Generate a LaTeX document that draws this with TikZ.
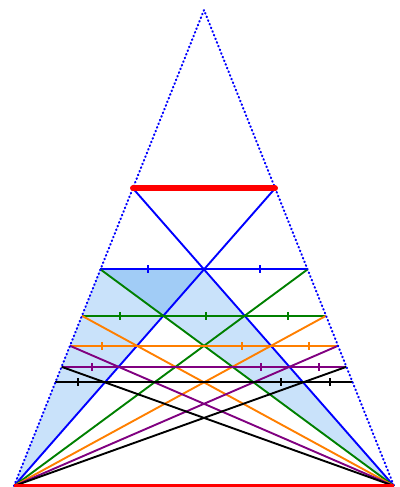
\documentclass[tikz,border=0pt]{standalone}
\usetikzlibrary{calc}
\definecolor{lgreen}{RGB}{0,128,0}
\definecolor{lorange}{RGB}{255,127,0}
\definecolor{lpurple}{RGB}{128,0,128}
\definecolor{lshade}{RGB}{40,140,235}
\tikzset{
  side/.style={blue,line width=3pt,dash pattern=on 1pt off 4.6pt,line cap=round},
  tri/.style={fill=lshade,fill opacity=0.25},
  rung/.style={line width=2.7pt}
}

\begin{document}
\begin{tikzpicture}[x=0.5mm,y=-0.5mm]
  \useasboundingbox (0,0) rectangle (399,487);
  \coordinate (A) at (204,10);
  \coordinate (B1) at (14,486);
  \coordinate (B2) at (394,486);
  % rungs at t=(k+1)/(k+1+c), c=1.67
  \foreach \k in {0,...,5}{
    \pgfmathsetmacro\t{(\k+1)/(\k+2.67)}
    \coordinate (L\k) at ($(A)!\t!(B1)$);
    \coordinate (R\k) at ($(A)!\t!(B2)$);
  }
  \coordinate (C1) at ($(L1)!0.5!(R1)$);
  \fill[tri] (L1) -- (C1) -- (B1) -- cycle;
  \fill[tri] (L1) -- (C1) -- (B2) -- cycle;
  \foreach \k/\c in {1/blue,2/lgreen,3/lorange,4/lpurple,5/black}{
    \pgfmathtruncatemacro\j{\k-1}
    \draw[rung,\c] (L\j) -- (B2) (R\j) -- (B1);
    \draw[rung,\c] (L\k) -- (R\k);
  }
  \foreach \k/\c/\f in {1/blue/0.228,1/blue/0.772,2/lgreen/0.157,2/lgreen/0.507,2/lgreen/0.844,
      3/lorange/0.121,3/lorange/0.642,3/lorange/0.891,4/lpurple/0.108,4/lpurple/0.700,4/lpurple/0.904,
      5/black/0.075,5/black/0.758,5/black/0.923}
    \draw[rung,\c] ($(L\k)!\f!(R\k)$) ++(0,-4) -- ++(0,8);
  \draw[side] (B1) -- (A) -- (B2);
  \draw[red,line width=8pt,line cap=round] (L0) -- (R0);
  \draw[red,line width=6pt] (B1) -- (B2);
\end{tikzpicture}
\end{document}
